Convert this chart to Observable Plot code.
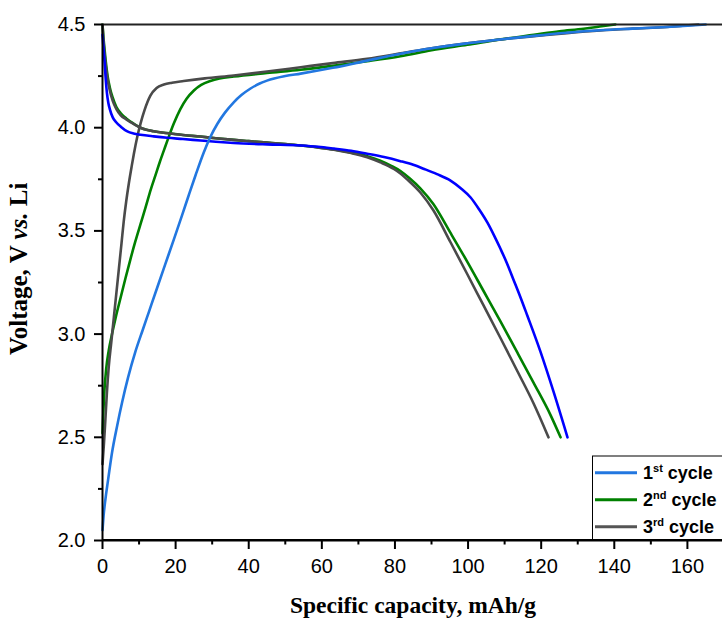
<!DOCTYPE html>
<html>
<head>
<meta charset="utf-8">
<script src="https://cdn.jsdelivr.net/npm/d3@7"></script>
<script src="https://cdn.jsdelivr.net/npm/@observablehq/plot@0.6"></script>
<style>
  html, body { margin: 0; padding: 0; background: #fff; }
  #chart { width: 722px; height: 620px; }
</style>
</head>
<body>
<div id="chart"></div>
<script>
// ---- Data ----
const xTicks = [0, 20, 40, 60, 80, 100, 120, 140, 160];
const xMinorTicks = [10, 30, 50, 70, 90, 110, 130, 150];
const yTicks = [2.0, 2.5, 3.0, 3.5, 4.0, 4.5];
const yMinorTicks = [2.25, 2.75, 3.25, 3.75, 4.25];

const legendLabels = [["1", "st", " cycle"], ["2", "nd", " cycle"], ["3", "rd", " cycle"]];

// cycle 1 charge (light blue)
const charge1Capacity = [0, 0.3, 0.8, 1.5, 2.6, 4, 5.4, 7, 9, 11, 12.7, 15, 17.2, 19.5, 21.8, 23.5, 25.5, 27.7, 29.5, 31.4, 33.5, 35.9, 38, 40.5, 43, 45, 50, 54.2, 63, 72.4, 81.5, 90, 99.8, 110, 118, 127, 136.2, 145, 154.4, 160, 165];
const charge1Voltage  = [2.05, 2.12, 2.20, 2.29, 2.425, 2.555, 2.672, 2.79, 2.915, 3.02, 3.108, 3.227, 3.34, 3.458, 3.578, 3.668, 3.772, 3.88, 3.955, 4.018, 4.073, 4.123, 4.158, 4.19, 4.214, 4.228, 4.25, 4.262, 4.29, 4.325, 4.358, 4.385, 4.409, 4.43, 4.445, 4.46, 4.472, 4.48, 4.488, 4.494, 4.5];

// cycle 1 discharge (blue)
const discharge1Capacity = [0, 0.3, 0.6, 0.9, 1.2, 1.6, 2.0, 2.8, 3.8, 5, 6.8, 8.5, 10.4, 14, 17.7, 22, 26.8, 31, 35.9, 45, 54.2, 59, 63.3, 68, 72.4, 77, 81.5, 85, 88, 91.5, 95.2, 98, 100.7, 103, 105.3, 107.2, 108.9, 110.6, 112.4, 114.3, 116.2, 119.8, 123.4, 127.2];
const discharge1Voltage  = [4.45, 4.38, 4.31, 4.23, 4.17, 4.12, 4.09, 4.05, 4.025, 4.005, 3.982, 3.972, 3.966, 3.958, 3.951, 3.945, 3.938, 3.932, 3.926, 3.919, 3.914, 3.908, 3.899, 3.888, 3.874, 3.858, 3.838, 3.82, 3.80, 3.775, 3.744, 3.707, 3.662, 3.605, 3.54, 3.475, 3.412, 3.345, 3.265, 3.18, 3.09, 2.915, 2.72, 2.50];

// cycle 2 charge (green)
const charge2Capacity = [0, 0.5, 1.0, 1.7, 2.6, 3.6, 5, 6.3, 7.6, 9.0, 10.4, 11.8, 13.2, 14.5, 15.7, 16.8, 17.7, 19.5, 21.3, 23, 25, 27, 29.5, 32, 35.9, 45, 54.2, 63, 72.4, 81.5, 90, 99.8, 109, 118, 125, 131.6, 136, 140.3];
const charge2Voltage  = [2.52, 2.72, 2.83, 2.92, 3.00, 3.08, 3.18, 3.272, 3.36, 3.45, 3.533, 3.615, 3.70, 3.77, 3.835, 3.89, 3.935, 4.02, 4.09, 4.14, 4.18, 4.207, 4.226, 4.238, 4.248, 4.265, 4.281, 4.30, 4.322, 4.346, 4.375, 4.402, 4.428, 4.45, 4.467, 4.479, 4.49, 4.5];

// cycle 2 discharge (green)
const discharge2Capacity = [0, 0.2, 0.5, 0.9, 1.4, 2.0, 2.8, 3.8, 5.0, 6.5, 8.5, 10.4, 12, 14, 17.7, 22, 26.8, 31, 35.9, 40, 45, 50, 54.2, 58.5, 63.3, 68, 72.4, 76, 79, 81.5, 84, 87, 90.5, 95.2, 99.8, 104.2, 108.9, 113.5, 117.9, 122.5, 125.3];
const discharge2Voltage  = [4.50, 4.45, 4.39, 4.32, 4.25, 4.195, 4.145, 4.10, 4.07, 4.045, 4.02, 4.0, 3.99, 3.983, 3.974, 3.965, 3.957, 3.949, 3.941, 3.935, 3.928, 3.921, 3.914, 3.906, 3.895, 3.88, 3.862, 3.84, 3.815, 3.79, 3.755, 3.705, 3.63, 3.49, 3.35, 3.21, 3.06, 2.91, 2.765, 2.61, 2.50];

// cycle 3 charge (dark grey)
const charge3Capacity = [0, 0.4, 0.8, 1.2, 1.7, 2.4, 3.1, 3.8, 4.5, 5.2, 5.8, 6.5, 7.2, 8.0, 8.6, 9.5, 10.4, 11.5, 13.1, 14.8, 16.8, 19, 22.2, 28, 35.9, 45, 54.2, 63, 72.4, 81.5, 90, 99.8, 110, 118, 127, 136.2, 145, 154.4, 163];
const charge3Voltage  = [2.37, 2.47, 2.59, 2.715, 2.84, 2.96, 3.08, 3.20, 3.32, 3.44, 3.545, 3.645, 3.73, 3.815, 3.875, 3.955, 4.02, 4.085, 4.155, 4.192, 4.209, 4.218, 4.226, 4.239, 4.253, 4.272, 4.293, 4.313, 4.334, 4.36, 4.385, 4.409, 4.43, 4.443, 4.458, 4.471, 4.48, 4.488, 4.5];

// cycle 3 discharge (dark grey)
const discharge3Capacity = [0, 0.2, 0.5, 0.9, 1.4, 2.0, 2.8, 3.8, 5.0, 6.5, 8.5, 10.4, 12, 14, 17.7, 22, 26.8, 31, 35.9, 40, 45, 50, 54.2, 58.5, 63.3, 68, 72.4, 76, 79.7, 81.5, 83.3, 87, 90.5, 95.2, 99.8, 104.2, 108.9, 113.5, 117.9, 122.0];
const discharge3Voltage  = [4.50, 4.44, 4.37, 4.30, 4.235, 4.18, 4.13, 4.09, 4.06, 4.04, 4.018, 4.0, 3.99, 3.983, 3.973, 3.965, 3.957, 3.949, 3.941, 3.935, 3.928, 3.921, 3.914, 3.905, 3.893, 3.877, 3.857, 3.832, 3.80, 3.778, 3.75, 3.685, 3.60, 3.445, 3.29, 3.14, 2.98, 2.82, 2.665, 2.50];

// ---- Build tables ----
const rows = (xs, ys) => xs.map((x, i) => ({capacity: x, voltage: ys[i]}));

const colors = {
  charge1: "#2277e0",
  discharge1: "#0000ff",
  cycle2: "#008000",
  cycle3: "#4a4a4a"
};

const lineOpts = (stroke) => ({x: "capacity", y: "voltage", stroke, strokeWidth: 2.6, curve: "monotone-x"});

const chart = Plot.plot({
  width: 722,
  height: 620,
  marginLeft: 102,
  marginRight: 0,
  marginTop: 24,
  marginBottom: 80,
  style: {fontFamily: "'Liberation Sans', Arial, sans-serif", fontSize: "20px", background: "#fff", overflow: "visible", color: "#000"},
  x: {domain: [0, 169.6]},
  y: {domain: [2.0, 4.5]},
  marks: [
    Plot.line(rows(charge2Capacity, charge2Voltage), lineOpts(colors.cycle2)),
    Plot.line(rows(discharge2Capacity, discharge2Voltage), lineOpts(colors.cycle2)),
    Plot.line(rows(charge3Capacity, charge3Voltage), lineOpts(colors.cycle3)),
    Plot.line(rows(discharge3Capacity, discharge3Voltage), lineOpts(colors.cycle3)),
    Plot.line(rows(discharge1Capacity, discharge1Voltage), lineOpts(colors.discharge1)),
    Plot.line(rows(charge1Capacity, charge1Voltage), lineOpts(colors.charge1)),
    Plot.ruleY([4.5], {stroke: "#222", strokeWidth: 1.8}),
    Plot.ruleX([0], {stroke: "#000", strokeWidth: 2}),
    Plot.ruleY([2.0], {stroke: "#000", strokeWidth: 2}),
    Plot.axisX(xTicks, {anchor: "bottom", tickSize: 9, tickPadding: 9, strokeWidth: 2, label: null, tickFormat: d => String(d)}),
    Plot.axisX(xMinorTicks, {anchor: "bottom", tickSize: 4.5, strokeWidth: 2, label: null, tickFormat: () => ""}),
    Plot.axisY(yTicks, {anchor: "left", tickSize: 8, tickPadding: 9, strokeWidth: 2, label: null, tickFormat: d => d.toFixed(1)}),
    Plot.axisY(yMinorTicks, {anchor: "left", tickSize: 4, strokeWidth: 2, label: null, tickFormat: () => ""})
  ]
});

document.getElementById("chart").appendChild(chart);

// ---- Axis titles and legend (text) ----
const svg = d3.select(chart);
const serif = "'Liberation Serif', 'Times New Roman', serif";

svg.append("text")
  .attr("x", 413).attr("y", 613)
  .attr("text-anchor", "middle")
  .style("font-family", serif).style("font-weight", "bold").style("font-size", "23.5px")
  .attr("fill", "#000")
  .text("Specific capacity, mAh/g");

const yt = svg.append("text")
  .attr("transform", "translate(27,268.8) rotate(-90)")
  .attr("text-anchor", "middle")
  .style("font-family", serif).style("font-weight", "bold").style("font-size", "25px")
  .attr("fill", "#000");
yt.append("tspan").text("Voltage, V ");
yt.append("tspan").style("font-style", "italic").text("vs.");
yt.append("tspan").text(" Li");

const legendColors = [colors.charge1, colors.cycle2, "#555"];
const lg = svg.append("g");
lg.append("rect")
  .attr("x", 592.5).attr("y", 456).attr("width", 140).attr("height", 84)
  .attr("fill", "#fff").attr("stroke", "#000").attr("stroke-width", 1);
legendLabels.forEach((lab, i) => {
  const cy = 472.7 + i * 27;
  lg.append("line")
    .attr("x1", 595).attr("x2", 637).attr("y1", cy).attr("y2", cy)
    .attr("stroke", legendColors[i]).attr("stroke-width", 3);
  const t = lg.append("text")
    .attr("x", 643).attr("y", cy + 6.5)
    .attr("text-anchor", "start")
    .style("font-family", "'Liberation Sans', Arial, sans-serif")
    .style("font-weight", "bold").style("font-size", "18px")
    .attr("fill", "#000");
  t.append("tspan").text(lab[0]);
  t.append("tspan").attr("dy", -7).style("font-size", "11px").text(lab[1]);
  t.append("tspan").attr("dy", 7).text(lab[2]);
});
// redraw the x-axis baseline over the legend box bottom
svg.append("line").attr("x1", 102).attr("x2", 722).attr("y1", 540).attr("y2", 540)
  .attr("stroke", "#000").attr("stroke-width", 2);
</script>
</body>
</html>
